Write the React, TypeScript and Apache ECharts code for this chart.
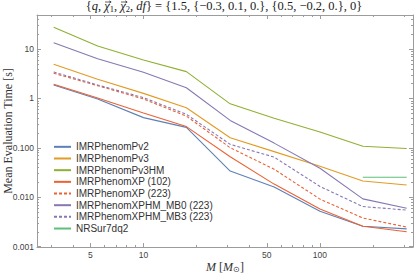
import React, { useEffect, useRef } from "react";
import * as echarts from "echarts";

// ---- data ----
const masses = [3.1, 5.5, 10, 17.5, 31, 55, 100, 175, 310];
const pv2 = [1.88, 0.98, 0.41, 0.26, 0.034, 0.0162, 0.0052, 0.0026, 0.0023];
const pv3 = [4.92, 2.45, 1.27, 0.65, 0.161, 0.084, 0.0425, 0.0214, 0.0177];
const pv3hm = [27.6, 11.6, 6.0, 3.5, 0.78, 0.4, 0.21, 0.108, 0.097];
const xp102 = [1.94, 1.02, 0.51, 0.27, 0.066, 0.0185, 0.0058, 0.0026, 0.002];
const xp223 = [3.24, 1.82, 0.98, 0.44, 0.101, 0.037, 0.0092, 0.0038, 0.0025];
const xphmMb0 = [13.5, 6.4, 3.4, 1.65, 0.36, 0.125, 0.0386, 0.0093, 0.006];
const xphmMb3 = [3.44, 1.88, 1.04, 0.48, 0.118, 0.065, 0.0166, 0.0065, 0.0055];
const nrsur = [null, null, null, null, null, null, null, 0.0255, 0.0255];

const seriesNames = [
  "IMRPhenomPv2",
  "IMRPhenomPv3",
  "IMRPhenomPv3HM",
  "IMRPhenomXP (102)",
  "IMRPhenomXP (223)",
  "IMRPhenomXPHM_MB0 (223)",
  "IMRPhenomXPHM_MB3 (223)",
  "NRSur7dq2",
];
const seriesValues = [pv2, pv3, pv3hm, xp102, xp223, xphmMb0, xphmMb3, nrsur];

const xTickValues = [5, 10, 50, 100];
const xTickLabels = ["5", "10", "50", "100"];
const xMinorTicks = [3, 4, 6, 7, 8, 9, 20, 30, 40, 60, 70, 80, 90, 200, 300];
const yTickValues = [0.001, 0.01, 0.1, 1, 10];
const yTickLabels = ["0.001", "0.010", "0.100", "1", "10"];
const yMinorTicks = [
  0.002, 0.003, 0.004, 0.005, 0.006, 0.007, 0.008, 0.009,
  0.02, 0.03, 0.04, 0.05, 0.06, 0.07, 0.08, 0.09,
  0.2, 0.3, 0.4, 0.5, 0.6, 0.7, 0.8, 0.9,
  2, 3, 4, 5, 6, 7, 8, 9, 20, 30, 40,
];

// title pieces: [text, kind] kind: r = roman, i = italic, v = italic vector, s = subscript
const titlePieces: [string, string][] = [
  ["{", "r"],
  ["q", "i"],
  [", ", "r"],
  ["χ", "v"],
  ["1", "s"],
  [", ", "r"],
  ["χ", "v"],
  ["2", "s"],
  [", ", "r"],
  ["df", "i"],
  ["} = {1.5, {−0.3, 0.1, 0.}, {0.5, −0.2, 0.}, 0}", "r"],
];

// ---- styles ----
const colors = ["#5E81B5", "#E19C24", "#8FB032", "#EB6235", "#EB6235", "#8778B3", "#8778B3", "#5CBF7A"];
const dashed = [false, false, false, false, true, false, true, false];
const X_MIN = 2.494;
const X_MAX = 336.6;
const Y_MIN = 0.000986;
const Y_MAX = 49;
const FRAME = "#9c9c9c";
const SANS = "Liberation Sans";
const SERIF = "Liberation Serif";
const TITLE_CX = 224;
const TITLE_Y = 8;
const TITLE_SIZE = 12.5;

function fmt(values: number[], labels: string[]) {
  return (v: number) => {
    let best = 0;
    let bd = Infinity;
    values.forEach((t, i) => {
      const d = Math.abs(Math.log10(v) - Math.log10(t));
      if (d < bd) {
        bd = d;
        best = i;
      }
    });
    return bd < 0.01 ? labels[best] : "";
  };
}

function axis(
  kind: "x" | "y",
  position: string,
  ticks: number[],
  len: number,
  showLine: boolean,
  labels: null | { values: number[]; text: string[] }
) {
  return {
    type: "log",
    logBase: 10,
    position,
    min: kind === "x" ? X_MIN : Y_MIN,
    max: kind === "x" ? X_MAX : Y_MAX,
    axisLine: { show: showLine, onZero: false, lineStyle: { color: FRAME, width: 1 } },
    axisTick: {
      show: true,
      inside: true,
      length: len,
      customValues: ticks,
      lineStyle: { color: FRAME, width: 1 },
    },
    axisLabel: labels
      ? {
          show: true,
          customValues: labels.values,
          formatter: fmt(labels.values, labels.text),
          fontFamily: SANS,
          fontSize: 8.5,
          color: "#444",
          margin: 3,
        }
      : { show: false },
    splitLine: { show: false },
    minorTick: { show: false },
    minorSplitLine: { show: false },
  };
}

function pieceFont(kind: string) {
  if (kind === "s") return { size: 8.5, italic: false };
  if (kind === "i" || kind === "v") return { size: TITLE_SIZE, italic: true };
  return { size: TITLE_SIZE, italic: false };
}

function buildTitle(): any[] {
  const ctx = document.createElement("canvas").getContext("2d")!;
  const widths = titlePieces.map(([t, k]) => {
    const f = pieceFont(k);
    ctx.font = `${f.italic ? "italic " : ""}${f.size}px "${SERIF}"`;
    return ctx.measureText(t).width;
  });
  const total = widths.reduce((a, b) => a + b, 0);
  let x = TITLE_CX - total / 2;
  const els: any[] = [];
  titlePieces.forEach(([t, k], i) => {
    const f = pieceFont(k);
    els.push({
      type: "text",
      x,
      y: k === "s" ? TITLE_Y + 5.5 : TITLE_Y + 4.5,
      style: {
        text: t,
        fontFamily: SERIF,
        fontSize: f.size,
        fontStyle: f.italic ? "italic" : "normal",
        fill: "#222",
        align: "left",
        verticalAlign: "bottom",
      },
    });
    if (k === "v") {
      const cx = x + widths[i] / 2 + 1;
      els.push({
        type: "line",
        shape: { x1: cx - 3, y1: 2, x2: cx + 3, y2: 2 },
        style: { stroke: "#222", lineWidth: 0.7 },
      });
      els.push({
        type: "polyline",
        shape: { points: [[cx + 1.3, 0.8], [cx + 3.2, 2], [cx + 1.3, 3.2]] },
        style: { stroke: "#222", lineWidth: 0.7, fill: "none" },
      });
    }
    x += widths[i];
  });
  return els;
}

export default function App() {
  const ref = useRef<HTMLDivElement>(null);
  useEffect(() => {
    const chart = echarts.init(ref.current!, null, { renderer: "svg" });
    const series = seriesNames.map((name, k) => ({
      type: "line",
      name,
      xAxisIndex: 0,
      yAxisIndex: 0,
      symbol: "none",
      data: masses
        .map((m, i) => [m, seriesValues[k][i]])
        .filter((p) => p[1] !== null),
      lineStyle: { color: colors[k], width: 1.1, type: dashed[k] ? [3, 2] : "solid" },
      itemStyle: { color: colors[k] },
      z: 3,
    }));
    chart.setOption({
      animation: false,
      backgroundColor: "#fff",
      grid: { left: 37, right: 2, top: 15, bottom: 29, containLabel: false },
      xAxis: [
        axis("x", "bottom", xTickValues, 4, true, { values: xTickValues, text: xTickLabels }),
        axis("x", "bottom", xMinorTicks, 2, false, null),
        axis("x", "top", xTickValues, 4, true, null),
        axis("x", "top", xMinorTicks, 2, false, null),
      ],
      yAxis: [
        axis("y", "left", yTickValues, 4, true, { values: yTickValues, text: yTickLabels }),
        axis("y", "left", yMinorTicks, 2, false, null),
        axis("y", "right", yTickValues, 4, true, null),
        axis("y", "right", yMinorTicks, 2, false, null),
      ],
      legend: {
        orient: "vertical",
        left: 53,
        top: 141,
        padding: 0,
        itemWidth: 17,
        itemHeight: 8,
        itemGap: 0,
        data: seriesNames,
        itemStyle: { opacity: 0 },
        textStyle: { fontFamily: SANS, fontSize: 10, color: "#333", lineHeight: 11.67 },
      },
      graphic: [
        ...buildTitle(),
        {
          type: "text",
          x: 8,
          y: 131,
          rotation: Math.PI / 2,
          style: {
            text: "Mean Evaluation Time [s]",
            fontFamily: SERIF,
            fontSize: 12,
            fill: "#333",
            align: "center",
            verticalAlign: "middle",
          },
        },
        {
          type: "text",
          x: 225,
          y: 267,
          style: {
            text: "{i|M} [{i|M}{s|⊙}]",
            fontFamily: SERIF,
            fontSize: 12,
            fill: "#333",
            align: "center",
            verticalAlign: "middle",
            rich: {
              i: { fontFamily: SERIF, fontSize: 12, fontStyle: "italic", fill: "#333" },
              s: { fontFamily: SERIF, fontSize: 8, fill: "#333", verticalAlign: "bottom", padding: [5, 0, 0, 0] },
            },
          },
        },
      ],
      series,
    });
    return () => chart.dispose();
  }, []);
  return (
    <div
      ref={ref}
      style={{ position: "fixed", left: 0, top: 0, width: 415, height: 276, background: "#fff" }}
    />
  );
}
